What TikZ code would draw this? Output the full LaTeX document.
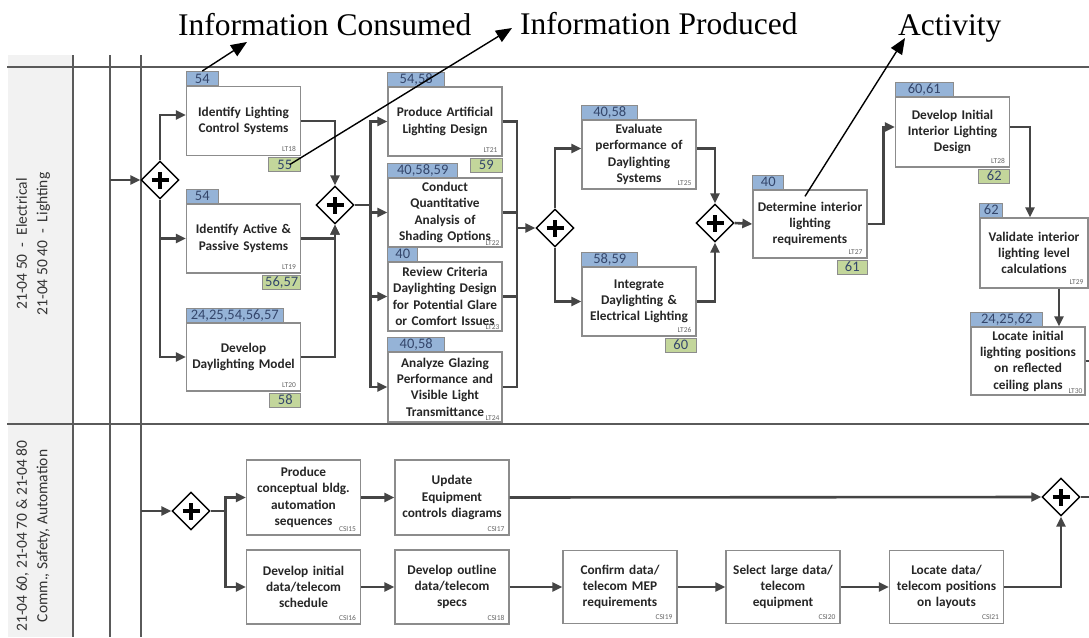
\documentclass[tikz,border=0pt]{standalone}
\usepackage{fontspec}
\setmainfont{Carlito}
\newfontfamily\serifann{Liberation Serif}
\usetikzlibrary{shapes.geometric,arrows.meta,calc}
\definecolor{tagblue}{HTML}{95B3D7}
\definecolor{taggreen}{HTML}{C3D69B}
\definecolor{boxline}{HTML}{8C8C8C}
\definecolor{flowc}{HTML}{454545}
\definecolor{lanec}{HTML}{5A5A5A}
\definecolor{tagtext}{HTML}{34466B}
\definecolor{hdrfill}{HTML}{F2F2F2}
\begin{document}
\begin{tikzpicture}[x=1pt,y=-1pt,
  act/.style={draw=boxline, line width=1.3pt, fill=white, inner sep=0pt,
    align=center, text=black!85, text width=110pt, minimum width=114pt, minimum height=69pt,
    font=\fontsize{13.3}{16.3}\selectfont\bfseries},
  code/.style={anchor=south east, inner xsep=5pt, inner ysep=4pt, text=black!60,
    font=\fontsize{7.5}{8}\selectfont},
  btag/.style={draw=boxline, line width=0.8pt, fill=tagblue, text=tagtext, inner sep=0pt,
    minimum height=14pt, text height=9.5pt, text depth=0pt, anchor=south west,
    font=\fontsize{14.5}{14.5}\selectfont},
  gtag/.style={btag, fill=taggreen, anchor=north east},
  gate/.style={diamond, draw=black, line width=1.4pt, fill=white, minimum width=38pt,
    minimum height=38pt, inner sep=0pt,
    path picture={
      \draw[line width=4.5pt,black] ([xshift=-8.5pt]path picture bounding box.center) -- ([xshift=8.5pt]path picture bounding box.center);
      \draw[line width=4.5pt,black] ([yshift=-8.5pt]path picture bounding box.center) -- ([yshift=8.5pt]path picture bounding box.center);}},
  flow/.style={draw=flowc, line width=2.6pt, -{Triangle[length=10pt,width=9pt]}},
  plain/.style={draw=flowc, line width=2.6pt},
  lanel/.style={draw=lanec, line width=2pt},
  lanetxt/.style={rotate=90, align=center, text=black!80, font=\fontsize{15.5}{20.5}\selectfont},
  anntxt/.style={anchor=base west, inner sep=0pt, font=\serifann\fontsize{31.5}{36}\selectfont},
  ann/.style={draw=black, line width=1.4pt, -{Triangle[length=16pt,width=13pt]}}
]
\useasboundingbox (0,0) rectangle (1089,637);
\fill[white] (0,0) rectangle (1089,637);
% lanes
\fill[hdrfill] (8,55) rectangle (73,637);
\draw[lanel] (7,67) -- (1089,67);
\draw[lanel] (7,424) -- (1089,424);
\draw[lanel] (73,55) -- (73,637);
\draw[lanel] (110,55) -- (110,637);
\draw[lanel] (141,55) -- (141,637);
\node[lanetxt] (lane1) at (33,244) {21-04 50\ \ -\ \ Electrical\\21-04 50 40\ \ -\ \ Lighting};
\node[lanetxt] (lane2) at (33,536) {21-04 60, 21-04 70 \& 21-04 80\\Comm., Safety, Automation};

% top annotation texts
\node[anntxt] (tcons) at (178,35) {Information Consumed};
\node[anntxt] (tprod) at (520,34) {Information Produced};
\node[anntxt] (tact) at (898,35) {Activity};

% gateways
\node[gate] (D1) at (160,180) {};
\node[gate] (D2) at (335,205) {};
\node[gate] (D3) at (555,228) {};
\node[gate] (D4) at (715,223) {};
\node[gate] (D5) at (191,511) {};
\node[gate] (D6) at (1061,497) {};

% activities, lighting lane
\node[act] (A1) at (243.5,121) {Identify Lighting\\Control Systems};
\node[code] at (A1.south east) {LT18};
\node[btag, minimum width=32pt] (tA1) at (A1.north west) {54};
\node[gtag, minimum width=32pt] (gA1) at ([yshift=-1pt]A1.south east) {55};

\node[act] (A2) at (243.5,238.5) {Identify Active \&\\Passive Systems};
\node[code] at (A2.south east) {LT19};
\node[btag, minimum width=32pt] (tA2) at (A2.north west) {54};
\node[gtag, minimum width=38pt] (gA2) at ([yshift=-1pt]A2.south east) {56,57};

\node[act, minimum height=68pt] (A3) at (243.5,357) {Develop\\Daylighting Model};
\node[code] at (A3.south east) {LT20};
\node[btag, minimum width=97pt] (tA3) at (A3.north west) {24,25,54,56,57};
\node[gtag, minimum width=31pt] (gA3) at ([yshift=-1pt]A3.south east) {58};

\node[act] (B1) at (445,121.5) {Produce Artificial\\Lighting Design};
\node[code] at (B1.south east) {LT21};
\node[btag, minimum width=57pt] (tB1) at (B1.north west) {54,58};
\node[gtag, minimum width=32pt] (gB1) at ([yshift=-1pt]B1.south east) {59};

\node[act] (B2) at (445,212.5) {Conduct\\Quantitative\\Analysis of\\Shading Options};
\node[code, inner ysep=2pt, inner xsep=3pt] at (B2.south east) {LT22};
\node[btag, minimum width=70pt] (tB2) at (B2.north west) {40,58,59};

\node[act] (B3) at (445,296.5) {Review Criteria\\Daylighting Design\\for Potential Glare\\or Comfort Issues};
\node[code, inner ysep=2pt, inner xsep=3pt] at (B3.south east) {LT23};
\node[btag, minimum width=30pt] (tB3) at (B3.north west) {40};

\node[act, minimum height=70pt] (B4) at (445,387) {Analyze Glazing\\Performance and\\Visible Light\\Transmittance};
\node[code, inner ysep=2pt, inner xsep=3pt] at (B4.south east) {LT24};
\node[btag, minimum width=57pt] (tB4) at (B4.north west) {40,58};

\node[act] (E) at (639,154.5) {Evaluate\\performance of\\Daylighting\\Systems};
\node[code] at (E.south east) {LT25};
\node[btag, minimum width=56pt] (tE) at (E.north west) {40,58};

\node[act] (F) at (639,301.5) {Integrate\\Daylighting \&\\Electrical Lighting};
\node[code] at (F.south east) {LT26};
\node[btag, minimum width=56pt] (tF) at (F.north west) {58,59};
\node[gtag, minimum width=31pt] (gF) at ([yshift=-1pt]F.south east) {60};

\node[act, minimum height=68pt] (G) at (810,224) {Determine interior\\lighting\\requirements};
\node[code] at (G.south east) {LT27};
\node[btag, minimum width=31pt] (tG) at (G.north west) {40};
\node[gtag, minimum width=30pt] (gG) at ([yshift=-1pt]G.south east) {61};

\node[act, minimum height=70pt] (H) at (952.5,132) {Develop Initial\\Interior Lighting\\Design};
\node[code] at (H.south east) {LT28};
\node[btag, minimum width=58pt] (tH) at (H.north west) {60,61};
\node[gtag, minimum width=31pt] (gH) at ([yshift=-1pt]H.south east) {62};

\node[act, minimum height=70pt, minimum width=108pt, text width=106pt] (I) at (1034,253) {Validate interior\\lighting level\\calculations};
\node[code] at (I.south east) {LT29};
\node[btag, minimum width=23pt] (tI) at (I.north west) {62};

\node[act, minimum height=68pt] (J) at (1028,361) {Locate initial\\lighting positions\\on reflected\\ceiling plans};
\node[code, inner ysep=2pt, inner xsep=3pt] at (J.south east) {LT30};
\node[btag, minimum width=72pt] (tJ) at (J.north west) {24,25,62};

% activities, comm lane
\node[act, minimum height=75pt] (C1) at (303.5,497.5) {Produce\\conceptual bldg.\\automation\\sequences};
\node[code] at (C1.south east) {CSI15};
\node[act, minimum height=75pt] (C2) at (452,497.5) {Update\\Equipment\\controls diagrams};
\node[code] at (C2.south east) {CSI17};
\node[act, minimum height=74pt] (C3) at (303.5,587) {Develop initial\\data/telecom\\schedule};
\node[code] at (C3.south east) {CSI16};
\node[act, minimum height=74pt] (C4) at (452,587) {Develop outline\\data/telecom\\specs};
\node[code] at (C4.south east) {CSI18};
\node[act, minimum height=73pt] (C5) at (620,587) {Confirm data/\\telecom MEP\\requirements};
\node[code] at (C5.south east) {CSI19};
\node[act, minimum height=73pt] (C6) at (783,587) {Select large data/\\telecom\\equipment};
\node[code] at (C6.south east) {CSI20};
\node[act, minimum height=73pt] (C7) at (946.5,587) {Locate data/\\telecom positions\\on layouts};
\node[code] at (C7.south east) {CSI21};

% coordinates for free ends
\coordinate (in1) at (110,180);
\coordinate (in2) at (141,511);
\coordinate (bus2) at (517,228);
\coordinate (jout) at (1089,361);
\coordinate (dout) at (1089,497);
\coordinate (cTip) at (247,42);
\coordinate (pTip) at (512,28);
\coordinate (aTip) at (905,38);

% connectors lighting lane
\draw[flow] (in1) -- (D1.west);
\draw[flow] (D1.north) |- ([yshift=6pt]A1.west);
\draw[flow] (D1.south) |- (A2.west);
\draw[flow] (D1.south) |- (A3.west);
\draw[flow] (A1.east) -| (D2.north);
\draw[flow] (A2.east) -| (D2.south);
\draw[flow] (A3.east) -| (D2.south);
\draw[flow] (D2.east) -- ++(16,0) |- (B1.west);
\draw[flow] (D2.east) -- ++(16,0) |- (B2.west);
\draw[flow] (D2.east) -- ++(16,0) |- (B3.west);
\draw[flow] (D2.east) -- ++(16,0) |- (B4.west);
\draw[plain] (B1.east) -| (bus2);
\draw[plain] (B2.east) -| (bus2);
\draw[plain] (B3.east) -| (bus2);
\draw[plain] (B4.east) -| (bus2);
\draw[flow] (bus2) -- (D3.west);
\draw[flow] (D3.north) |- ([yshift=6pt]E.west);
\draw[flow] (D3.south) |- (F.west);
\draw[flow] ([yshift=6pt]E.east) -| (D4.north);
\draw[flow] (F.east) -| (D4.south);
\draw[flow] (D4.east) -- (G.west);
\draw[flow] (G.east) -- ++(16,0) |- ([yshift=5pt]H.west);
\draw[flow] ([yshift=5pt]H.east) -| ([xshift=-4pt]I.north);
\draw[flow] ([xshift=25pt]I.south) -- ([xshift=31pt]J.north);
\draw[plain] (J.east) -- (jout);

% connectors comm lane
\draw[flow] (in2) -- (D5.west);
\draw[flow] (D5.east) -- ++(15,0) |- (C1.west);
\draw[flow] (D5.east) -- ++(15,0) |- (C3.west);
\draw[flow] (C1.east) -- (C2.west);
\draw[flow] (C2.east) -- (D6.west);
\draw[flow] (C3.east) -- (C4.west);
\draw[flow] (C4.east) -- (C5.west);
\draw[flow] (C5.east) -- (C6.west);
\draw[flow] (C6.east) -- (C7.west);
\draw[flow] (C7.east) -| (D6.south);
\draw[plain] (D6.east) -- (dout);

% annotation arrows
\draw[ann] (tA1.north) -- (cTip);
\draw[ann] ([xshift=5pt]gA1.center) -- (pTip);
\draw[ann] ([xshift=-5pt,yshift=-7pt]G.north) -- (aTip);
\end{tikzpicture}
\end{document}
